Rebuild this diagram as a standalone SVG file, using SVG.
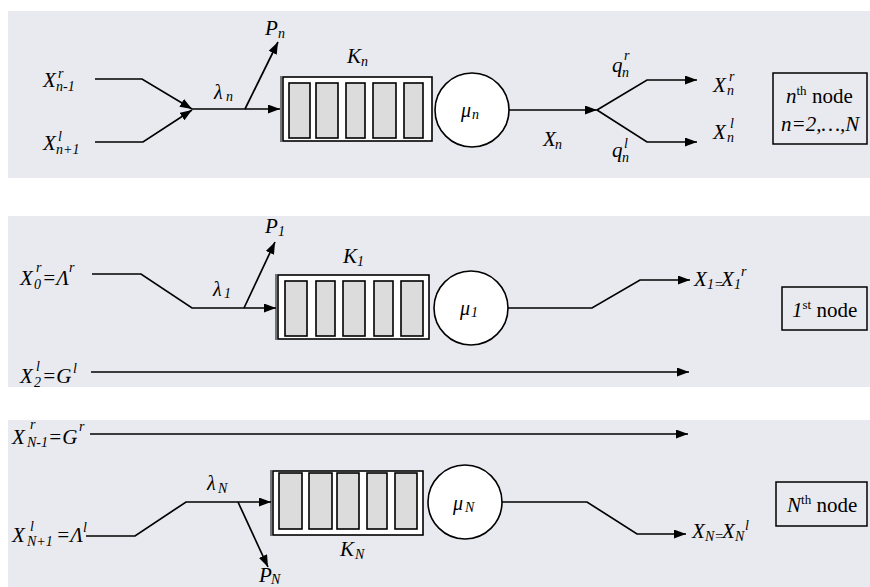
<svg xmlns="http://www.w3.org/2000/svg" width="870" height="587" viewBox="0 0 870 587">
<defs>
<style>
.bg{fill:#e9eaef;stroke:none}
.ln{fill:none;stroke:#000;stroke-width:1.7}
.ar{marker-end:url(#ah)}
.q{fill:#fff;stroke:#000;stroke-width:1.6}
.c{fill:#dcdcdd;stroke:#000;stroke-width:1.6}
.srv{fill:#fff;stroke:#000;stroke-width:1.6}
.box{fill:none;stroke:#000;stroke-width:1.5}
text{font-family:"Liberation Serif","Times New Roman",serif;fill:#000}
.m{font-style:italic;font-size:21px}
.s{font-style:italic;font-size:14px}
.g{font-style:italic;font-size:20px}
.t{font-size:21px}
.ts{font-size:13px}
</style>
<marker id="ah" markerUnits="userSpaceOnUse" markerWidth="12" markerHeight="9" refX="12" refY="4.5" orient="auto">
<path d="M0,0 L12,4.5 L0,9 z" fill="#000"/>
</marker>
</defs>

<rect class="bg" x="8" y="11" width="862" height="167"/>
<rect class="bg" x="8" y="216" width="862" height="171"/>
<rect class="bg" x="8" y="420" width="862" height="167"/>

<g id="connectors">
<polyline class="ln ar" points="95,79 142,79 192,109"/>
<polyline class="ln ar" points="95,142 143,142 192,110"/>
<line class="ln ar" x1="192" y1="109" x2="280" y2="109"/>
<line class="ln ar" x1="245" y1="109" x2="278" y2="42"/>
<line class="ln ar" x1="509" y1="110" x2="597" y2="110"/>
<polyline class="ln ar" points="597,110 647,80 697,80"/>
<polyline class="ln ar" points="597,110 647,142 697,142"/>

<polyline class="ln ar" points="92,274 141,274 192,308 276,308"/>
<line class="ln ar" x1="244" y1="308" x2="275" y2="242"/>
<polyline class="ln ar" points="508,308 592,308 640,280 690,280"/>
<line class="ln ar" x1="91" y1="372" x2="689" y2="372"/>

<line class="ln ar" x1="90" y1="434" x2="688" y2="434"/>
<polyline class="ln ar" points="86,536 135,536 186,502 271,502"/>
<line class="ln ar" x1="238" y1="502" x2="268" y2="567"/>
<polyline class="ln ar" points="502,502 587,502 637,534 686,534"/>
</g>

<g id="node-n">
<g id="queue-n">
<rect class="q" x="283" y="77" width="149" height="64"/>
<line class="ln" x1="281" y1="76" x2="281" y2="142" style="stroke-width:1"/>
<rect class="c" x="289" y="83" width="21" height="55"/>
<rect class="c" x="316" y="83" width="22" height="55"/>
<rect class="c" x="346" y="83" width="19" height="55"/>
<rect class="c" x="373" y="83" width="23" height="55"/>
<rect class="c" x="404" y="83" width="19" height="55"/>
</g>
<circle class="srv" cx="472" cy="110" r="37"/>
<text class="g" x="461" y="117">μ</text><text class="s" x="472" y="119">n</text>
<text class="m" x="347" y="63">K</text><text class="s" x="361" y="66">n</text>
<text class="m" x="43" y="87">X</text><text class="s" x="58" y="78">r</text><text class="s" x="56" y="91">n-1</text>
<text class="m" x="43" y="150">X</text><text class="s" x="58" y="141">l</text><text class="s" x="56" y="154">n+1</text>
<text class="m" x="265" y="35">P</text><text class="s" x="278" y="38">n</text>
<text class="g" x="214" y="99">λ</text><text class="s" x="226" y="101">n</text>
<text class="m" x="543" y="146">X</text><text class="s" x="555" y="149">n</text>
<text class="m" x="612" y="72">q</text><text class="s" x="624" y="60">r</text><text class="s" x="622" y="77">n</text>
<text class="m" x="612" y="157">q</text><text class="s" x="624" y="148">l</text><text class="s" x="622" y="162">n</text>
<text class="m" x="713" y="92">X</text><text class="s" x="729" y="81">r</text><text class="s" x="727" y="95">n</text>
<text class="m" x="713" y="139">X</text><text class="s" x="730" y="128">l</text><text class="s" x="727" y="142">n</text>
<rect class="box" x="773" y="73" width="94" height="71"/>
<text class="t" x="786" y="103"><tspan font-style="italic">n</tspan><tspan class="ts" dy="-8">th</tspan><tspan dy="8"> node</tspan></text>
<text class="t" x="781" y="131" font-style="italic">n=2,…,N</text>
</g>

<g id="node-1">
<g id="queue-1">
<rect class="q" x="278" y="275" width="151" height="64"/>
<line class="ln" x1="276" y1="274" x2="276" y2="340" style="stroke-width:1"/>
<rect class="c" x="285" y="281" width="22" height="55"/>
<rect class="c" x="316" y="281" width="19" height="55"/>
<rect class="c" x="343" y="281" width="22" height="55"/>
<rect class="c" x="374" y="281" width="19" height="55"/>
<rect class="c" x="401" y="281" width="22" height="55"/>
</g>
<circle class="srv" cx="471" cy="308" r="37"/>
<text class="g" x="460" y="315">μ</text><text class="s" x="471" y="317">1</text>
<text class="m" x="343" y="263">K</text><text class="s" x="357" y="266">1</text>
<text class="m" x="20" y="285">X</text><text class="s" x="36" y="272">r</text><text class="s" x="34" y="289">0</text>
<text class="m" x="42" y="285">=Λ</text><text class="s" x="69" y="272">r</text>
<text class="m" x="20" y="383">X</text><text class="s" x="36" y="371">l</text><text class="s" x="34" y="387">2</text>
<text class="m" x="42" y="383">=G</text><text class="s" x="73" y="373">l</text>
<text class="m" x="265" y="233">P</text><text class="s" x="278" y="236">1</text>
<text class="g" x="213" y="296">λ</text><text class="s" x="224" y="298">1</text>
<text class="m" x="694" y="286">X</text><text class="s" x="707" y="289" font-size="11">1=</text>
<text class="m" x="721" y="286">X</text><text class="s" x="734" y="289">1</text><text class="s" x="741" y="276">r</text>
<rect class="box" x="782" y="287" width="85" height="43"/>
<text class="t" x="792" y="317"><tspan font-style="italic">1</tspan><tspan class="ts" dy="-8">st</tspan><tspan dy="8"> node</tspan></text>
</g>

<g id="node-N">
<g id="queue-N">
<rect class="q" x="273" y="471" width="150" height="64"/>
<line class="ln" x1="271" y1="470" x2="271" y2="536" style="stroke-width:1"/>
<rect class="c" x="279" y="473" width="23" height="56"/>
<rect class="c" x="309" y="473" width="23" height="56"/>
<rect class="c" x="337" y="473" width="22" height="56"/>
<rect class="c" x="367" y="473" width="20" height="56"/>
<rect class="c" x="395" y="473" width="22" height="56"/>
</g>
<circle class="srv" cx="465" cy="502" r="37"/>
<text class="g" x="453" y="510">μ</text><text class="s" x="465" y="512">N</text>
<text class="m" x="340" y="556">K</text><text class="s" x="355" y="559">N</text>
<text class="m" x="12" y="444">X</text><text class="s" x="30" y="429">r</text><text class="s" x="27" y="447">N-1</text>
<text class="m" x="48" y="444">=G</text><text class="s" x="79" y="431">r</text>
<text class="m" x="12" y="542">X</text><text class="s" x="30" y="531">l</text><text class="s" x="27" y="546">N+1</text>
<text class="m" x="56" y="542">=Λ</text><text class="s" x="83" y="532">l</text>
<text class="g" x="207" y="490">λ</text><text class="s" x="218" y="493">N</text>
<text class="m" x="259" y="582">P</text><text class="s" x="271" y="584">N</text>
<text class="m" x="692" y="538">X</text><text class="s" x="705" y="541" font-size="11">N=</text>
<text class="m" x="722" y="538">X</text><text class="s" x="735" y="541">N</text><text class="s" x="745" y="530">l</text>
<rect class="box" x="776" y="482" width="91" height="44"/>
<text class="t" x="787" y="512"><tspan font-style="italic">N</tspan><tspan class="ts" dy="-8">th</tspan><tspan dy="8"> node</tspan></text>
</g>
</svg>
